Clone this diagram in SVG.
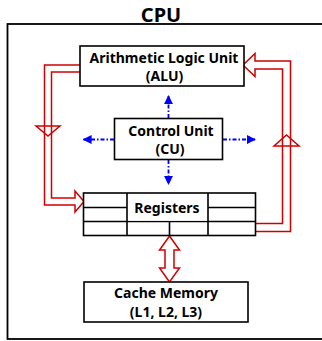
<svg xmlns="http://www.w3.org/2000/svg" width="322" height="341" viewBox="0 0 322 341">
<defs>
<style>
.box{fill:#fff;stroke:#000;stroke-width:1.6}
.ln{stroke:#000;stroke-width:1.6;fill:none}
.t{font-family:"Noto Sans","Open Sans",sans-serif;font-weight:bold;font-size:14px;text-anchor:middle;fill:#000}
.red{fill:none;stroke:#d00000;stroke-width:1.5;stroke-linejoin:miter}
.blue{stroke:#0000ff;stroke-width:1.8;stroke-dasharray:4 2 1.5 2;fill:none}
</style>
<marker id="ah" viewBox="0 0 10 10" refX="9" refY="5" markerWidth="5" markerHeight="5" orient="auto" markerUnits="strokeWidth">
<path d="M0,0 L10,5 L0,10 z" fill="#0000ff"/>
</marker>
</defs>
<g id="cpu">
<rect x="7.5" y="24" width="320" height="315" fill="none" stroke="#000" stroke-width="1.8"/>
<text x="161" y="21.5" class="t" style="font-size:20px">CPU</text>
</g>
<g id="connectors">
<path class="red" d="M80,65 H44.5 V205 H75 V212 L84,201.5 L75,191 V198 H51.5 V72 H80"/>
<path class="red" d="M36,126 H60 L48,136 Z"/>
<path class="red" d="M253.5,231.5 H290.5 V61 H255 V53.5 L243,65 L255,76.5 V69 H282.5 V223.5 H253.5 Z"/>
<path class="red" d="M274,146 H299 L286.5,135 Z"/>
<path class="red" d="M169.5,236 L179.5,250 H174 V268 H179.5 L169.5,282 L159.5,268 H165 V250 H159.5 Z"/>
<line class="blue" x1="168.5" y1="118" x2="168.5" y2="96" marker-end="url(#ah)"/>
<line class="blue" x1="168.5" y1="160" x2="168.5" y2="184" marker-end="url(#ah)"/>
<line class="blue" x1="114" y1="139.5" x2="83.5" y2="139.5" marker-end="url(#ah)"/>
<line class="blue" x1="223" y1="139.5" x2="255" y2="139.5" marker-end="url(#ah)"/>
</g>
<g id="alu">
<rect class="box" x="80" y="46" width="164" height="40"/>
<text class="t" x="164" y="62.5">Arithmetic Logic Unit</text>
<text class="t" x="164.5" y="81">(ALU)</text>
</g>
<g id="cu">
<rect class="box" x="114.5" y="118.5" width="108" height="41"/>
<text class="t" x="171" y="136">Control Unit</text>
<text class="t" x="170" y="153.5">(CU)</text>
</g>
<g id="registers">
<rect class="box" x="83.5" y="193" width="172" height="42.5"/>
<path class="ln" d="M83.5,207.5 H127 M208,207.5 H255.5 M83.5,221.5 H255.5 M127,193 V235.5 M208,193 V235.5 M169.5,221.5 V235.5"/>
<rect x="128" y="194" width="79" height="26.7" fill="#fff"/>
<text class="t" x="167" y="212.5">Registers</text>
</g>
<g id="cache">
<rect class="box" x="84" y="282" width="164" height="40"/>
<text class="t" x="166" y="298">Cache Memory</text>
<text class="t" x="166" y="317">(L1, L2, L3)</text>
</g>
</svg>
